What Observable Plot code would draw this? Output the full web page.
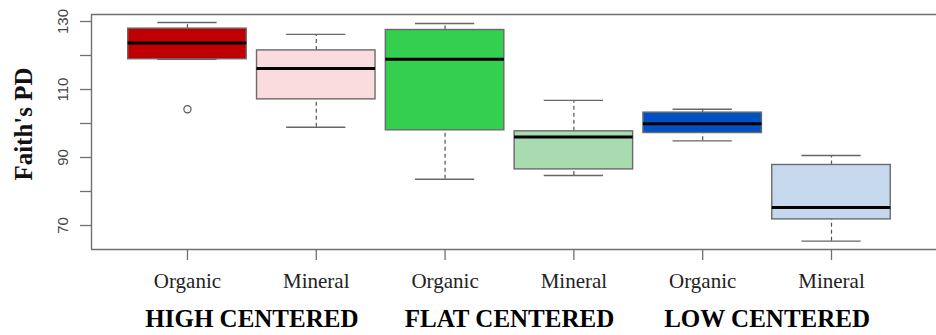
<!DOCTYPE html>
<html>
<head>
<meta charset="utf-8">
<script src="https://cdn.jsdelivr.net/npm/d3@7"></script>
<script src="https://cdn.jsdelivr.net/npm/@observablehq/plot@0.6"></script>
<style>
  body { margin: 0; background: #fff; }
  #chart svg { overflow: hidden; }
</style>
</head>
<body>
<div id="chart"></div>
<script>
// Faith's phylogenetic diversity by polygon type and soil horizon
const soils = ["Organic", "Mineral", "Organic", "Mineral", "Organic", "Mineral"];
const groups = ["HIGH CENTERED", "FLAT CENTERED", "LOW CENTERED"];
const whiskerLow  = [118.9,  98.9,  83.6,  84.7,  94.9,  65.4];
const q1          = [118.9, 107.1,  98.0,  86.5,  97.2,  71.8];
const median      = [123.7, 116.2, 118.9,  96.0,  99.9,  75.3];
const q3          = [127.9, 121.5, 127.5,  97.7, 103.2,  87.8];
const whiskerHigh = [129.7, 126.2, 129.4, 106.8, 104.2,  90.6];
const outlierBox   = [1];
const outlierValue = [104.2];
const fills = ["#c00000", "#fadcdf", "#33cf4f", "#a8dbb0", "#0052c4", "#c6d8ee"];
const yTicks  = [70, 80, 90, 100, 110, 120, 130];
const yLabels = [70, 90, 110, 130];

const boxHalf = 0.46;     // box half-width in category units
const capHalf = 0.23;     // whisker staple half-width

const boxes = soils.map((soil, i) => ({
  pos: i + 1, soil, fill: fills[i],
  lo: whiskerLow[i], q1: q1[i], med: median[i], q3: q3[i], hi: whiskerHigh[i]
}));
const outliers = outlierBox.map((b, i) => ({pos: b, value: outlierValue[i]}));
const groupLabels = groups.map((g, i) => ({pos: 2 * i + 1.5, label: g}));

const yDomain = [62.94, 132.06];
const xDomain = [0.255, 6.854];
const axisGray = "#707070";
const serif = "Liberation Serif, 'Times New Roman', serif";

const chart = Plot.plot({
  width: 936,
  height: 335,
  marginLeft: 91,
  marginRight: -5,
  marginTop: 14,
  marginBottom: 86,
  x: {type: "linear", domain: xDomain, axis: null},
  y: {domain: yDomain, axis: null},
  style: {background: "#fff"},
  marks: [
    // plot frame (top, bottom, left)
    Plot.ruleY([yDomain[1]], {stroke: axisGray, strokeWidth: 1.4}),
    Plot.ruleY([yDomain[0]], {stroke: axisGray, strokeWidth: 1.4}),
    Plot.ruleX([xDomain[0]], {stroke: axisGray, strokeWidth: 1.4}),

    // whiskers
    Plot.ruleX(boxes, {x: "pos", y1: "q3", y2: "hi", stroke: "#555", strokeWidth: 1.2, strokeDasharray: "4,3"}),
    Plot.ruleX(boxes, {x: "pos", y1: "lo", y2: "q1", stroke: "#555", strokeWidth: 1.2, strokeDasharray: "4,3"}),
    Plot.ruleY(boxes, {y: "hi", x1: d => d.pos - capHalf, x2: d => d.pos + capHalf, stroke: "#666", strokeWidth: 1.4}),
    Plot.ruleY(boxes, {y: "lo", x1: d => d.pos - capHalf, x2: d => d.pos + capHalf, stroke: "#666", strokeWidth: 1.4}),

    // boxes
    Plot.rect(boxes, {
      x1: d => d.pos - boxHalf, x2: d => d.pos + boxHalf,
      y1: "q1", y2: "q3", fill: "fill", stroke: "#6a6a6a", strokeWidth: 1.4
    }),
    // medians
    Plot.ruleY(boxes, {y: "med", x1: d => d.pos - boxHalf, x2: d => d.pos + boxHalf, stroke: "#000", strokeWidth: 3}),

    // outliers
    Plot.dot(outliers, {x: "pos", y: "value", r: 3.6, stroke: "#555", strokeWidth: 1.2, fill: "none"}),

    // y axis ticks and labels
    Plot.axisY({ticks: yTicks, tickSize: 11, tickFormat: () => "", label: null, stroke: axisGray, strokeWidth: 1.3}),
    Plot.text(yLabels, {
      y: d => d, text: d => String(d), frameAnchor: "left", dx: -24,
      rotate: -90, textAnchor: "middle", lineAnchor: "bottom",
      fontSize: 15, fontFamily: "Liberation Sans, Arial, sans-serif", fill: "#444"
    }),
    Plot.text(["Faith's PD"], {
      frameAnchor: "left", dx: -68, dy: -8, rotate: -90,
      textAnchor: "middle", lineAnchor: "middle",
      fontSize: 25, fontWeight: "bold", fontFamily: serif, fill: "#111"
    }),

    // x axis ticks, soil labels and polygon groups
    Plot.axisX({ticks: boxes.map(d => d.pos), tickSize: 11, tickFormat: () => "", label: null, stroke: axisGray, strokeWidth: 1.3}),
    Plot.text(boxes, {
      x: "pos", text: "soil", frameAnchor: "bottom", dy: 38, lineAnchor: "bottom",
      fontSize: 21, fontFamily: serif, fill: "#222"
    }),
    Plot.text(groupLabels, {
      x: "pos", text: "label", frameAnchor: "bottom", dy: 77, lineAnchor: "bottom",
      fontSize: 25, fontWeight: "bold", fontFamily: serif, fill: "#000"
    })
  ]
});

document.getElementById("chart").appendChild(chart);
</script>
</body>
</html>
